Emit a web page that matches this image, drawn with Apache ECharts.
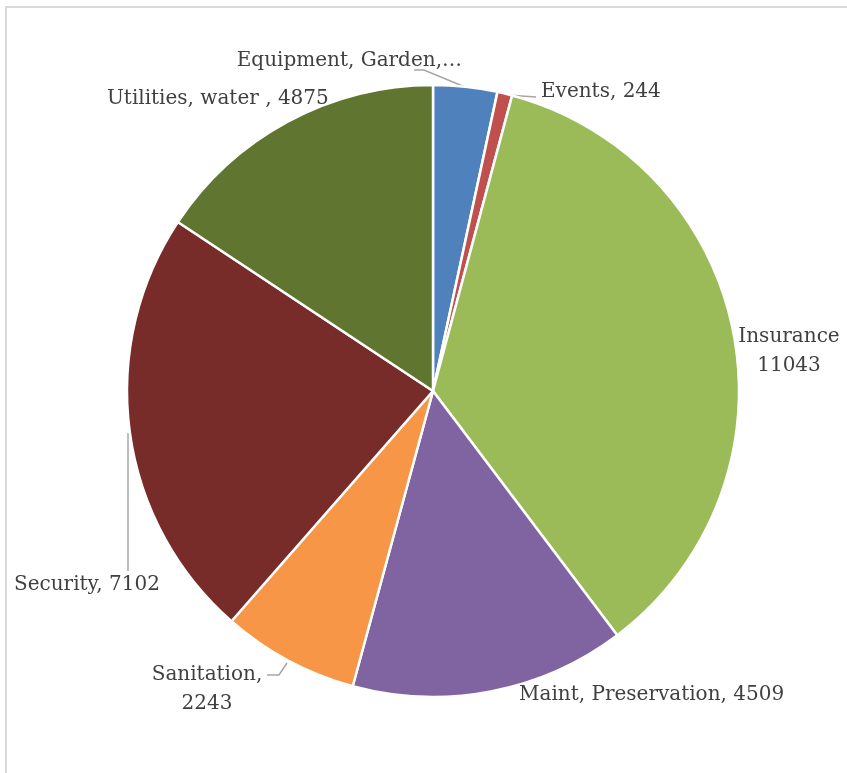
<!DOCTYPE html>
<html><head><meta charset="utf-8">
<script src="https://cdn.jsdelivr.net/npm/echarts@6/dist/echarts.min.js"></script>
<style>html,body{margin:0;padding:0;background:#fff}#c{width:847px;height:773px}</style>
</head><body><div id="c"></div>
<script>
// Data (clockwise from 12 o'clock)
const categories = ['Equipment, Garden,…', 'Events', 'Insurance', 'Maint, Preservation', 'Sanitation', 'Security', 'Utilities, water '];
const values = [1050, 244, 11043, 4509, 2243, 7102, 4875];
const colors = ['#4F81BD', '#C0504D', '#9BBB59', '#8064A2', '#F79646', '#772C2A', '#5F7530'];
const labelFormats = ['{b}', '{b}, {c}', '{b}\n{c}', '{b}, {c}', '{b},\n{c}', '{b}, {c}', '{b}, {c}'];

// Label placement (pixels) and leader lines
const labelPlace = [
  {x: 462, y: 61, align: 'right', line: [[465, 87], [424, 70], [414, 70]]},
  {x: 541, y: 92, align: 'left', line: [[507, 95], [536, 97]]},
  {x: 789, y: 351, align: 'center', line: null},
  {x: 519, y: 695, align: 'left', line: null},
  {x: 207, y: 689, align: 'center', line: [[287, 663], [279, 675], [267, 675]]},
  {x: 14, y: 585, align: 'left', line: [[128, 433], [128, 571]]},
  {x: 107, y: 99, align: 'left', line: null}
];

const chart = echarts.init(document.getElementById('c'), null, {renderer: 'canvas'});
chart.setOption({
  animation: false,
  backgroundColor: '#fff',
  graphic: [{
    type: 'rect', shape: {x: 6, y: 7, width: 900, height: 900},
    style: {fill: 'none', stroke: '#d9d9d9', lineWidth: 2}, silent: true
  }],
  series: [{
    type: 'pie',
    center: [433, 391],
    radius: [0, 306],
    startAngle: 90,
    clockwise: true,
    avoidLabelOverlap: false,
    itemStyle: {borderColor: '#fff', borderWidth: 2.5},
    label: {
      show: true,
      fontFamily: 'DejaVu Serif',
      fontSize: 20,
      lineHeight: 29,
      color: '#404040'
    },
    labelLine: {show: true, lineStyle: {color: '#a6a6a6', width: 1.5}},
    labelLayout: function (p) {
      const L = labelPlace[p.dataIndex];
      const o = {x: L.x, y: L.y, align: L.align, verticalAlign: 'middle'};
      if (L.line) o.labelLinePoints = L.line;
      return o;
    },
    data: categories.map((c, i) => ({
      name: c, value: values[i],
      itemStyle: {color: colors[i]},
      label: {formatter: labelFormats[i]},
      labelLine: {show: !!labelPlace[i].line}
    }))
  }]
});
</script></body></html>
